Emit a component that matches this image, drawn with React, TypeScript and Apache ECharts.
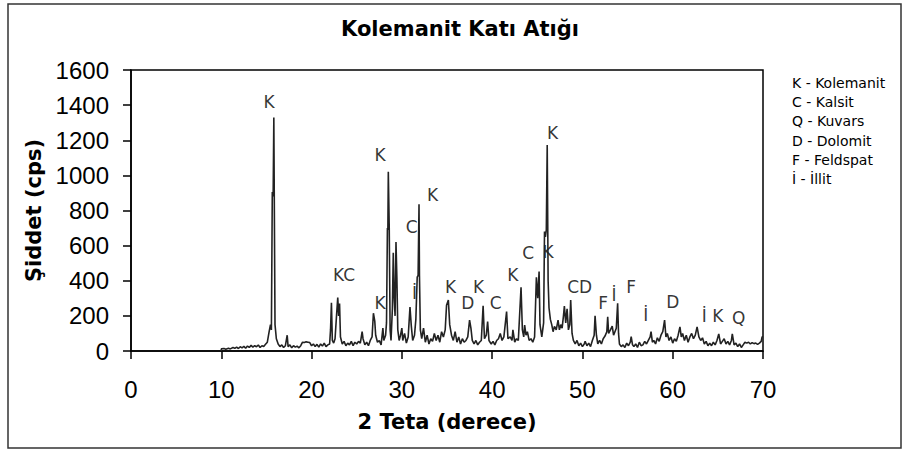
import React, { useEffect, useRef } from "react";
import * as echarts from "echarts";

const chartTitle = "Kolemanit Katı Atığı";
const xAxisName = "2 Teta (derece)";
const yAxisName = "Şiddet (cps)";

const xMin = 0;
const xMax = 70;
const xStep = 10;
const yMin = 0;
const yMax = 1600;
const yStep = 200;

// 2θ (degree), intensity (cps) pairs
const pattern: [number, number][] = [
  [10, 0], [10, 12], [10.3, 14], [10.5, 10], [10.8, 16], [11.0, 12], [11.3, 20], [11.5, 15], [11.7, 22], [11.9, 14],
  [12.1, 24], [12.3, 18], [12.5, 26], [12.7, 16], [12.9, 28], [13.1, 20], [13.3, 32], [13.5, 22], [13.7, 30], [13.9, 24],
  [14.1, 34], [14.3, 20], [14.5, 30], [14.7, 26], [14.9, 38], [15.1, 50], [15.3, 110], [15.45, 150], [15.55, 120],
  [15.65, 905], [15.7, 880], [15.75, 910], [15.82, 1330], [15.9, 600], [15.95, 150], [16.1, 70], [16.3, 40], [16.5, 25],
  [16.7, 35], [16.9, 20], [17.1, 30], [17.3, 90], [17.4, 25], [17.6, 35], [17.8, 18], [18.0, 30], [18.2, 22], [18.4, 28],
  [18.6, 18], [18.8, 30], [19.0, 50], [19.2, 48], [19.4, 52], [19.6, 50], [19.8, 48], [20.0, 30], [20.2, 40], [20.4, 25],
  [20.6, 38], [20.8, 22], [21.0, 40], [21.2, 28], [21.4, 45], [21.6, 25], [21.8, 35], [22.0, 40], [22.1, 120], [22.2, 275],
  [22.3, 60], [22.45, 45], [22.6, 70], [22.75, 190], [22.9, 305], [23.0, 200], [23.1, 270], [23.2, 80], [23.4, 40],
  [23.6, 55], [23.8, 30], [24.0, 45], [24.2, 35], [24.4, 55], [24.6, 30], [24.8, 50], [25.0, 40], [25.2, 55], [25.4, 45],
  [25.6, 110], [25.7, 70], [25.9, 35], [26.1, 50], [26.3, 30], [26.5, 60], [26.7, 80], [26.85, 215], [27.0, 170], [27.1, 90],
  [27.3, 50], [27.5, 60], [27.7, 35], [27.9, 130], [28.0, 60], [28.2, 90], [28.3, 160], [28.4, 700], [28.45, 690],
  [28.5, 1020], [28.6, 710], [28.7, 120], [28.8, 60], [28.95, 240], [29.05, 560], [29.15, 300], [29.25, 200], [29.35, 620],
  [29.45, 415], [29.55, 120], [29.7, 60], [29.85, 90], [30.0, 130], [30.1, 60], [30.3, 100], [30.5, 45], [30.7, 80],
  [30.9, 250], [31.05, 140], [31.2, 60], [31.4, 90], [31.55, 180], [31.7, 420], [31.8, 430], [31.9, 835], [31.95, 430],
  [32.05, 120], [32.2, 70], [32.4, 130], [32.6, 50], [32.8, 90], [33.0, 40], [33.2, 70], [33.4, 55], [33.6, 100], [33.8, 60],
  [34.0, 90], [34.2, 50], [34.4, 110], [34.6, 80], [34.8, 120], [34.95, 260], [35.15, 290], [35.3, 150], [35.5, 90],
  [35.7, 60], [35.9, 110], [36.1, 50], [36.3, 80], [36.5, 40], [36.7, 70], [36.9, 50], [37.1, 60], [37.3, 80], [37.5, 176],
  [37.65, 130], [37.8, 60], [38.0, 40], [38.2, 60], [38.4, 35], [38.6, 50], [38.8, 60], [39.0, 258], [39.15, 70], [39.35, 90],
  [39.5, 167], [39.65, 60], [39.9, 40], [40.1, 55], [40.3, 35], [40.5, 60], [40.7, 70], [40.9, 100], [41.1, 60], [41.3, 80],
  [41.6, 224], [41.75, 70], [42.0, 80], [42.2, 60], [42.3, 120], [42.5, 50], [42.7, 70], [42.9, 60], [43.2, 363], [43.35, 120],
  [43.5, 80], [43.6, 148], [43.75, 90], [43.9, 110], [44.1, 60], [44.3, 70], [44.5, 50], [44.7, 80], [44.9, 420], [45.05, 300],
  [45.2, 452], [45.3, 150], [45.5, 80], [45.7, 160], [45.8, 680], [45.9, 650], [46.0, 690], [46.1, 1173], [46.2, 400],
  [46.3, 245], [46.45, 180], [46.6, 150], [46.75, 110], [46.9, 140], [47.1, 120], [47.3, 176], [47.45, 120], [47.6, 150],
  [47.75, 130], [47.9, 200], [48.0, 256], [48.15, 160], [48.3, 240], [48.45, 120], [48.6, 150], [48.7, 290], [48.85, 100],
  [49.0, 60], [49.2, 40], [49.4, 60], [49.6, 30], [49.8, 45], [50.0, 25], [50.2, 40], [50.3, 55], [50.5, 30], [50.7, 45],
  [50.9, 25], [51.1, 60], [51.3, 90], [51.4, 200], [51.55, 90], [51.7, 40], [51.9, 60], [52.1, 40], [52.3, 70], [52.5, 85],
  [52.7, 110], [52.8, 195], [52.9, 100], [53.1, 120], [53.3, 142], [53.45, 90], [53.6, 110], [53.75, 130], [53.9, 272],
  [54.0, 100], [54.1, 40], [54.3, 25], [54.5, 35], [54.7, 20], [54.9, 45], [55.1, 30], [55.3, 50], [55.4, 82], [55.55, 35],
  [55.7, 25], [55.9, 40], [56.1, 20], [56.3, 50], [56.5, 30], [56.7, 35], [56.9, 55], [57.1, 40], [57.3, 60], [57.5, 80],
  [57.6, 110], [57.75, 50], [57.9, 60], [58.1, 40], [58.3, 75], [58.5, 55], [58.7, 90], [58.9, 110], [59.1, 176], [59.25, 80],
  [59.4, 100], [59.6, 60], [59.8, 80], [60.0, 45], [60.2, 70], [60.4, 55], [60.6, 90], [60.8, 137], [60.95, 80], [61.1, 100],
  [61.3, 60], [61.5, 90], [61.7, 50], [61.9, 80], [62.1, 100], [62.3, 70], [62.5, 90], [62.7, 137], [62.9, 80], [63.1, 60],
  [63.3, 75], [63.5, 40], [63.7, 55], [63.9, 30], [64.1, 45], [64.3, 30], [64.5, 50], [64.7, 35], [64.9, 60], [65.1, 97],
  [65.3, 40], [65.5, 55], [65.7, 70], [65.9, 40], [66.1, 55], [66.3, 35], [66.5, 60], [66.6, 97], [66.8, 35], [67.0, 45],
  [67.2, 25], [67.4, 40], [67.6, 20], [67.8, 35], [68.0, 50], [68.2, 45], [68.4, 50], [68.6, 40], [68.8, 48], [69.0, 42],
  [69.2, 45], [69.4, 38], [69.6, 45], [69.8, 55], [69.9, 80], [70, 82],
];

// peak annotations: mineral letter, 2θ and intensity where the letter sits
const peakLetters = ["K", "K", "C", "K", "İ", "K", "KC", "K", "D", "K", "C", "K", "C", "K", "K", "CD", "F", "İ", "F", "İ", "D", "İ", "K", "Q"];
const peakTheta = [15.3, 27.6, 31.1, 33.4, 31.4, 27.6, 23.6, 35.4, 37.3, 38.5, 40.4, 42.3, 44.0, 46.2, 46.7, 49.7, 52.3, 53.5, 55.4, 57.0, 60.0, 63.5, 65.0, 67.3];
const peakCps = [1418, 1116, 708, 888, 329, 275, 433, 366, 272, 366, 272, 433, 560, 565, 1240, 363, 275, 319, 366, 205, 281, 199, 199, 186];

const legendLines = ["K - Kolemanit", "C - Kalsit", "Q - Kuvars", "D - Dolomit", "F - Feldspat", "İ - İllit"];

export default function App() {
  const ref = useRef<HTMLDivElement>(null);
  useEffect(() => {
    document.body.style.margin = "0";
    if (!ref.current) return;
    const chart = echarts.init(ref.current, null, { renderer: "svg" });
    const axisStyle = { color: "#000", width: 1.5 };
    const legendY = [83, 102, 121, 141, 160, 179];
    chart.setOption({
      animation: false,
      backgroundColor: "#fff",
      grid: { left: 131, right: 145, top: 70, bottom: 100, show: true, borderColor: "#000", borderWidth: 1.5, backgroundColor: "transparent" },
      xAxis: {
        type: "value", min: xMin, max: xMax, interval: xStep,
        axisLine: { show: true, onZero: false, lineStyle: axisStyle },
        axisTick: { show: true, length: 8, lineStyle: axisStyle },
        axisLabel: { fontFamily: "Liberation Sans", fontSize: 24, color: "#000", margin: 26, formatter: (v: number) => String(v) },
        splitLine: { show: false },
        name: xAxisName, nameLocation: "middle", nameGap: 60,
        nameTextStyle: { fontFamily: "DejaVu Sans", fontWeight: "bold", fontSize: 21, color: "#000" },
      },
      yAxis: {
        type: "value", min: yMin, max: yMax, interval: yStep,
        axisLine: { show: true, lineStyle: axisStyle },
        axisTick: { show: true, length: 8, lineStyle: axisStyle },
        axisLabel: { fontFamily: "Liberation Sans", fontSize: 24, color: "#000", margin: 22, formatter: (v: number) => String(v) },
        splitLine: { show: false },
        name: yAxisName, nameLocation: "middle", nameGap: 77, nameRotate: 90,
        nameTextStyle: { fontFamily: "DejaVu Sans", fontWeight: "bold", fontSize: 21, color: "#000" },
      },
      series: [
        {
          type: "line", data: pattern, showSymbol: false, symbol: "none",
          lineStyle: { color: "#222", width: 1.6 }, silent: true,
        },
        {
          type: "scatter", symbolSize: 0, silent: true,
          itemStyle: { color: "#000" },
          data: peakLetters.map((t, i) => ({ name: t, value: [peakTheta[i], peakCps[i]] })),
          label: { show: true, position: "inside", formatter: "{b}", fontFamily: "DejaVu Sans", fontSize: 17, color: "#000", textBorderWidth: 0 },
        },
      ],
      graphic: [
        {
          type: "rect", shape: { x: 8, y: 4, width: 893, height: 444 },
          style: { fill: "none", stroke: "#333", lineWidth: 1.5 }, silent: true,
        },
        {
          type: "text", x: 460, y: 29,
          style: { text: chartTitle, fontFamily: "DejaVu Sans", fontWeight: "bold", fontSize: 21, fill: "#000", textAlign: "center", textVerticalAlign: "middle" },
        },
        ...legendLines.map((t, i) => ({
          type: "text", x: 792, y: legendY[i],
          style: { text: t, fontFamily: "DejaVu Sans", fontSize: 14, fill: "#000", textAlign: "left", textVerticalAlign: "middle" },
        })),
      ],
    });
    return () => chart.dispose();
  }, []);
  return <div ref={ref} style={{ width: 908, height: 451 }} />;
}
